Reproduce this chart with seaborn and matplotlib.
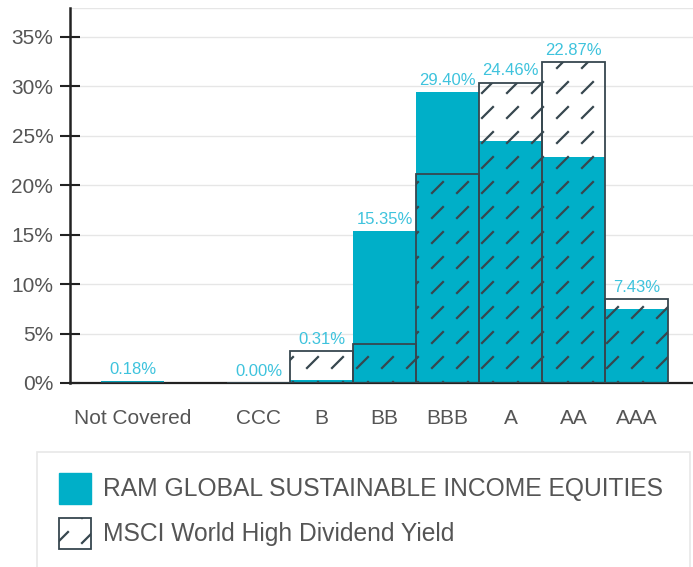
import numpy as np
import pandas as pd
import matplotlib
matplotlib.use('Agg')
import matplotlib.pyplot as plt
import matplotlib.hatch as mhatch
from matplotlib.path import Path
from matplotlib.patches import Patch, Rectangle
import seaborn as sns

# ESG rating breakdown (% of portfolio), blank slot kept as in the source chart
ratings = ["Not Covered", "", "CCC", "B", "BB", "BBB", "A", "AA", "AAA"]
fund_weights = [0.18, np.nan, 0.00, 0.31, 15.35, 29.40, 24.46, 22.87, 7.43]
index_weights = [0.0, np.nan, 0.0, 3.26, 3.94, 21.1, 30.37, 32.45, 8.45]
y_ticks = [0, 5, 10, 15, 20, 25, 30, 35]

fund_name = "RAM GLOBAL SUSTAINABLE INCOME EQUITIES"
index_name = "MSCI World High Dividend Yield"

teal = "#00AFC8"
label_teal = "#3EC3DD"
dark = "#37474F"


# short dashed "/" hatch like the original (grid of small strokes)
class DashHatch(mhatch.HatchPatternBase):
    def __init__(self, hatch, density):
        self.n = 4 if hatch.count('/') else 0
        self.num_vertices = self.n * self.n * 2

    def set_vertices_and_codes(self, vertices, codes):
        c = (np.arange(self.n) + 0.5) / self.n
        cx, cy = np.meshgrid(c, c)
        cx, cy = cx.ravel(), cy.ravel()
        h = 0.055
        vertices[0::2, 0] = cx - h
        vertices[0::2, 1] = cy - h
        vertices[1::2, 0] = cx + h
        vertices[1::2, 1] = cy + h
        codes[0::2] = Path.MOVETO
        codes[1::2] = Path.LINETO


mhatch._hatch_types = [DashHatch if t is mhatch.NorthEastHatch else t
                       for t in mhatch._hatch_types]

df = pd.DataFrame({"rating": ratings, "fund": fund_weights, "index": index_weights})

sns.set_style("white")
plt.rcParams['font.family'] = ['Liberation Sans', 'DejaVu Sans']
plt.rcParams['hatch.linewidth'] = 1.6

fig = plt.figure(figsize=(6.93, 5.67), dpi=100)
ax = fig.add_axes([70 / 693, 1 - 383 / 567, 1 - 70 / 693, (383 - 8) / 567])

sns.barplot(data=df, x="rating", y="fund", order=ratings, color=teal,
            saturation=1, width=1.0, linewidth=0, ax=ax, zorder=2)
sns.barplot(data=df, x="rating", y="index", order=ratings, fill=False,
            color=dark, width=1.0, linewidth=1.3, hatch="/", ax=ax, zorder=3)
for p in ax.patches[len(ratings):]:
    p.set_edgecolor(dark)
    p.set_facecolor("none")
    p.set_hatch("/")

# value labels sit above the taller of the two bars
for i, (f, m) in enumerate(zip(fund_weights, index_weights)):
    if np.isnan(f):
        continue
    top = max(f, m)
    ax.annotate(f"{f:.2f}%", (i, top), xytext=(0, 3), textcoords="offset points",
                ha="center", va="bottom", fontsize=12, color=label_teal)

ax.set_xlim(-1, 8.9)
ax.set_ylim(0, 37.9)
ax.set_yticks(y_ticks)
ax.set_yticklabels([f"{t}%" for t in y_ticks])
ax.set_xlabel("")
ax.set_ylabel("")

ax.yaxis.grid(True, color="#e6e6e6", linewidth=1)
ax.set_axisbelow(True)
for s in ["top", "right"]:
    ax.spines[s].set_visible(False)
ax.spines["left"].set_color("#222222")
ax.spines["left"].set_linewidth(1.8)
ax.spines["bottom"].set_color("#222222")
ax.spines["bottom"].set_linewidth(1.6)
ax.axhline(37.9, color="#e6e6e6", linewidth=1, zorder=0)

ax.tick_params(axis="y", direction="inout", length=14, width=1.5, color="#222222",
               labelsize=15, labelcolor="#555555", pad=5, left=True)
ax.tick_params(axis="x", length=0, labelsize=15, labelcolor="#555555", pad=19)

# legend box (runs past the bottom edge in the source)
fig.patches.append(Rectangle((37 / 693, -0.05), (690 - 37) / 693, (567 - 452) / 567 + 0.05,
                             transform=fig.transFigure, fill=False,
                             edgecolor="#e8e8e8", linewidth=1.2))
handles = [Patch(facecolor=teal, edgecolor=teal, label=fund_name),
           Patch(facecolor="white", edgecolor=dark, hatch="/", linewidth=1.3, label=index_name)]
fig.legend(handles=handles, loc="upper left", bbox_to_anchor=(49 / 693, 1 - 463 / 567),
           frameon=False, fontsize=17.7, handlelength=1.3, handleheight=1.55,
           handletextpad=0.5, labelspacing=0.58, labelcolor="#555555", borderaxespad=0)

fig.savefig("out.png", dpi=100)
